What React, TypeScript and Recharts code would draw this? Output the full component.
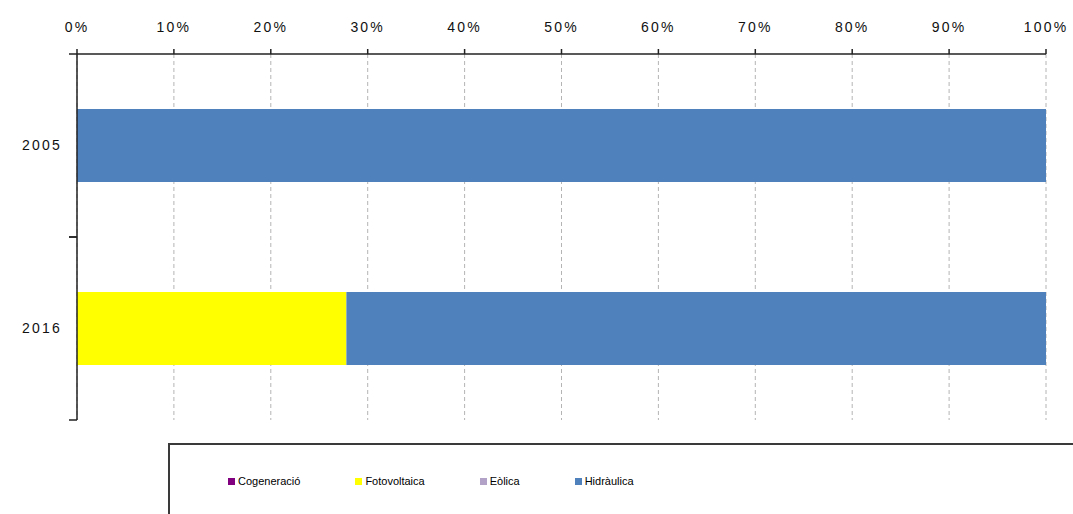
import React from 'react';
import { BarChart, Bar, XAxis, YAxis, CartesianGrid, Legend } from 'recharts';

const years = ['2005', '2016'];
const cogeneracio = [0, 0];
const fotovoltaica = [0, 27.8];
const eolica = [0, 0];
const hidraulica = [100, 72.2];
const xTicks = [0, 10, 20, 30, 40, 50, 60, 70, 80, 90, 100];

const seriesNames = ['Cogeneració', 'Fotovoltaica', 'Eòlica', 'Hidràulica'];
const seriesKeys = ['cog', 'foto', 'eol', 'hid'];
const seriesColors = ['#800080', '#FFFF00', '#B3A2C7', '#4F81BD'];

const data = years.map((y, i) => ({
  year: y,
  cog: cogeneracio[i],
  foto: fotovoltaica[i],
  eol: eolica[i],
  hid: hidraulica[i],
}));

const AXIS_COLOR = '#222';
const TICK_FONT = { fontFamily: 'Liberation Sans, Arial, sans-serif', fontSize: 14, letterSpacing: 2.2, fill: '#111' };

const YTick = (props: any) => {
  const { x, y, payload } = props;
  const off = payload && typeof payload.offset === 'number' && payload.offset > 0 ? payload.offset : 91.5;
  const axisX = x + 15;
  return (
    <g>
      <line x1={axisX - 8} x2={axisX} y1={y - off} y2={y - off} stroke={AXIS_COLOR} strokeWidth={1.5} />
      <line x1={axisX - 8} x2={axisX} y1={y + off} y2={y + off} stroke={AXIS_COLOR} strokeWidth={1.5} />
      <text x={x} y={y} dy="0.35em" textAnchor="end" style={TICK_FONT as any} fill="#111">
        {payload.value}
      </text>
    </g>
  );
};

const LegendContent = () => (
  <div
    style={{
      boxSizing: 'border-box',
      width: '100%',
      height: '100%',
      border: '2px solid #3a3a3a',
      display: 'flex',
      alignItems: 'flex-start',
      paddingLeft: 58,
      paddingTop: 30,
      gap: 55,
      fontFamily: 'Liberation Sans, Arial, sans-serif',
      fontSize: 11,
      color: '#000',
      background: '#fff',
    }}
  >
    {seriesNames.map((n, i) => (
      <div key={n} style={{ display: 'flex', alignItems: 'center', whiteSpace: 'nowrap' }}>
        <span style={{ display: 'inline-block', width: 7, height: 7, background: seriesColors[i], marginRight: 3 }} />
        <span>{n}</span>
      </div>
    ))}
  </div>
);

export default function App() {
  return (
    <div style={{ position: 'absolute', left: 0, top: 0, width: 1073, height: 514, background: '#fff', overflow: 'hidden' }}>
      <BarChart
        width={1073}
        height={514}
        data={data}
        layout="vertical"
        margin={{ top: 24, right: 27, bottom: 94, left: 17 }}
        barCategoryGap="30%"
      >
        <CartesianGrid horizontal={false} stroke="#b4b4b4" strokeDasharray="4 3" />
        <XAxis
          type="number"
          orientation="top"
          domain={[0, 100]}
          ticks={xTicks}
          interval={0}
          height={30}
          tickFormatter={(v: number) => `${v}%`}
          tick={TICK_FONT}
          tickSize={5}
          tickMargin={17}
          axisLine={{ stroke: AXIS_COLOR, strokeWidth: 1.5 }}
          tickLine={{ stroke: AXIS_COLOR, strokeWidth: 1.5 }}
        />
        <YAxis
          type="category"
          dataKey="year"
          width={60}
          tickSize={8}
          tickMargin={7}
          tickLine={false}
          tick={<YTick />}
          axisLine={{ stroke: AXIS_COLOR, strokeWidth: 1.5 }}
        />
        <Legend
          layout="horizontal"
          verticalAlign="middle"
          align="center"
          content={<LegendContent />}
          wrapperStyle={{ position: 'absolute', left: 168, top: 443, width: 930, height: 100, margin: 0 }}
        />
        {seriesKeys.map((k, i) => (
          <Bar key={k} dataKey={k} name={seriesNames[i]} stackId="a" fill={seriesColors[i]} isAnimationActive={false} />
        ))}
      </BarChart>
    </div>
  );
}
